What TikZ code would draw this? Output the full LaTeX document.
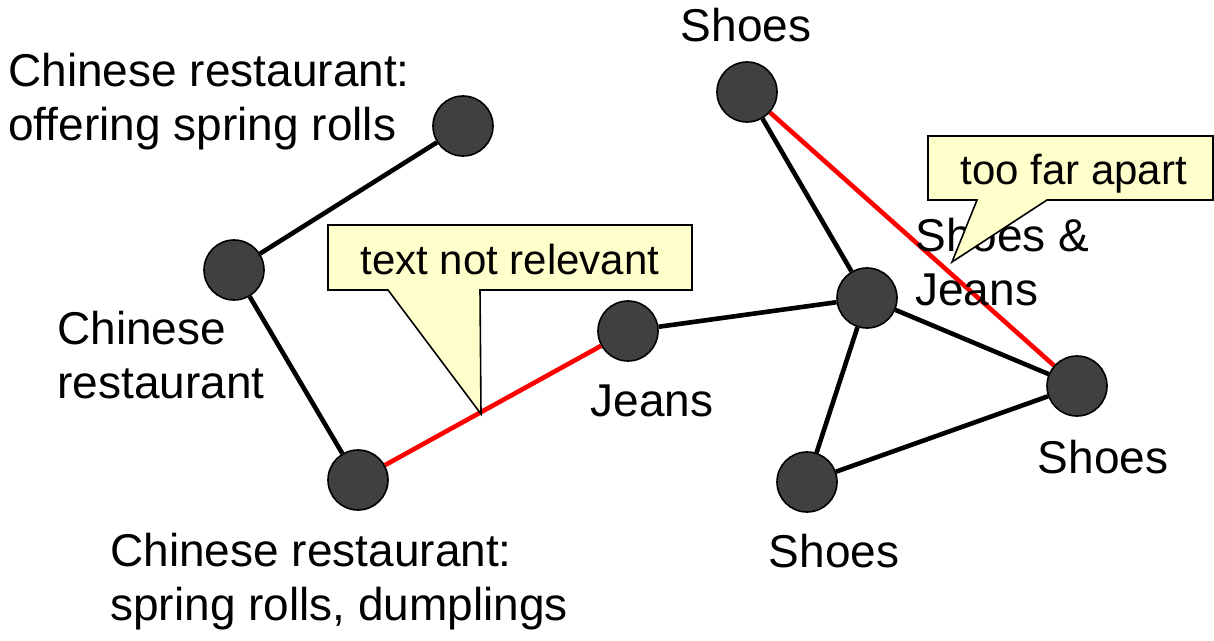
\documentclass[tikz,border=0pt]{standalone}
\usepackage{fontspec}
\setmainfont{Liberation Sans}
\usetikzlibrary{backgrounds}
\definecolor{dotgray}{HTML}{404040}
\definecolor{noteyellow}{HTML}{FFFFCC}

\begin{document}
\begin{tikzpicture}[
  x=0.5pt, y=-0.5pt, line cap=round, line join=round,
  dot/.style    ={circle, fill=dotgray, draw=black, line width=0.8pt, minimum size=30pt, inner sep=0pt},
  link/.style   ={black, line width=2.3pt},
  badlink/.style={red, line width=2.3pt},
  lbl/.style    ={font=\fontsize{23}{27}\selectfont, inner sep=0pt, align=left},
  note/.style   ={fill=noteyellow, draw=black, line width=0.8pt, line join=miter},
  notetxt/.style={font=\fontsize{21}{25}\selectfont, inner sep=0pt}
]
\useasboundingbox (0,0) rectangle (1214,641);

% --- restaurant chain (left)
\node[dot] (chinA) at (463,126) {};
\node[dot] (chinB) at (234,270) {};
\node[dot] (chinC) at (358,480) {};

% --- shoes / jeans cluster (right)
\node[dot] (jeans)     at (628,331) {};
\node[dot] (shoejeans) at (867,298) {};
\node[dot] (shoeT)     at (747,92)  {};
\node[dot] (shoeR)     at (1077,386) {};
\node[dot] (shoeB)     at (807,482) {};

% links go behind the dots
\begin{pgfonlayer}{background}
\draw[link] (chinA) -- (chinB);
\draw[link] (chinB) -- (chinC);
\draw[badlink] (chinC) -- (jeans);
\draw[link] (jeans) -- (shoejeans);
\draw[link] (shoejeans) -- (shoeT);
\draw[link] (shoejeans) -- (shoeR);
\draw[link] (shoejeans) -- (shoeB);
\draw[link] (shoeB) -- (shoeR);
\draw[badlink] (shoeT) -- (shoeR);
\end{pgfonlayer}

% --- labels (base = baseline of the last line)
\node[lbl, anchor=base west] (tChinA) at (8,141)   {Chinese restaurant:\\offering spring rolls};
\node[lbl, anchor=base west] (tChinB) at (57,398)  {Chinese\\restaurant};
\node[lbl, anchor=base west] (tChinC) at (110,620) {Chinese restaurant:\\spring rolls, dumplings};
\node[lbl, anchor=base] (tJeans) at (652,416) {Jeans};
\node[lbl, anchor=base west] (tShJe) at (915,306) {Shoes \&\\Jeans};
\node[lbl, anchor=base] (tShoeT) at (746,42)  {Shoes};
\node[lbl, anchor=base] (tShoeR) at (1103,473) {Shoes};
\node[lbl, anchor=base] (tShoeB) at (834,567) {Shoes};

% --- callouts
\draw[note] (328,225) -- (692,225) -- (692,290) -- (480,290) -- (481,414)
  -- (388,290) -- (328,290) -- cycle;
\node[notetxt, anchor=base] (nText) at (510,275) {text not relevant};

\draw[note] (928,136) -- (1213,136) -- (1213,200) -- (1047,200) -- (952,262)
  -- (977,200) -- (928,200) -- cycle;
\node[notetxt, anchor=base west] (nFar) at (960,185) {too far apart};
\end{tikzpicture}
\end{document}
